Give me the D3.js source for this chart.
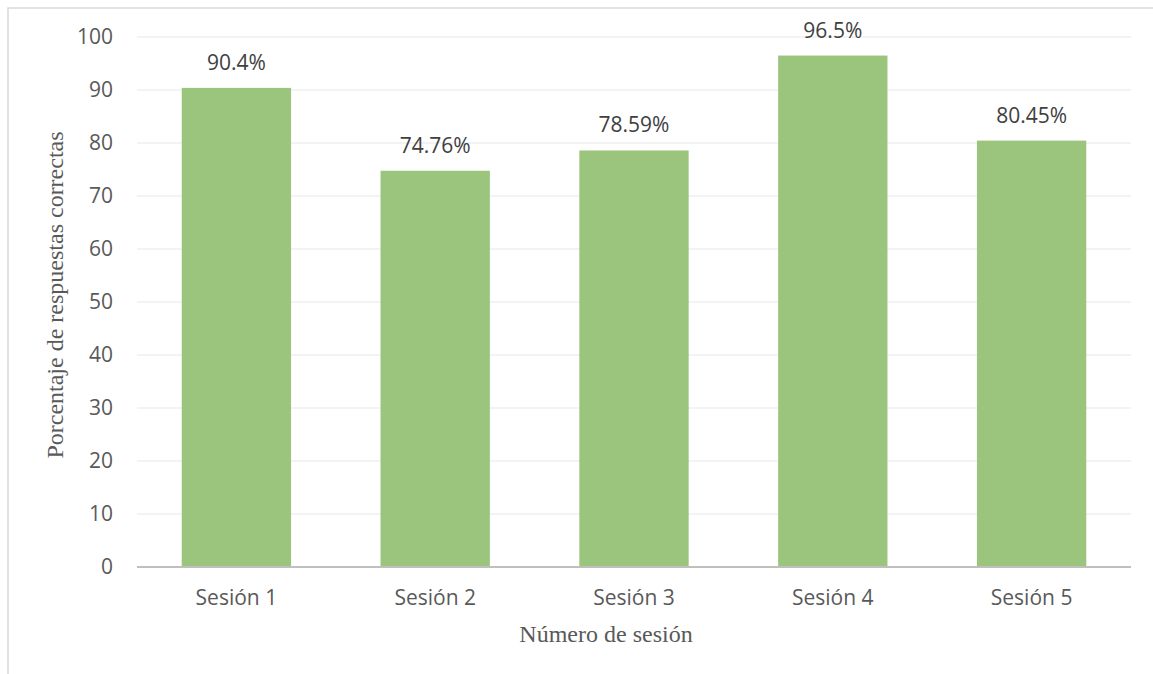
<!DOCTYPE html>
<html><head><meta charset="utf-8">
<script src="https://cdn.jsdelivr.net/npm/d3@7"></script>
<style>
html,body{margin:0;padding:0;background:#fff;}
svg{display:block;}
</style></head>
<body>
<script>
const categories = ["Sesión 1","Sesión 2","Sesión 3","Sesión 4","Sesión 5"];
const values = [90.4, 74.76, 78.59, 96.5, 80.45];
const valueLabels = ["90.4%","74.76%","78.59%","96.5%","80.45%"];
const yTicks = [0,10,20,30,40,50,60,70,80,90,100];
const yTitle = "Porcentaje de respuestas correctas";
const xTitle = "Número de sesión";

(function(){
const W = 1153, H = 674;
const mL = 137, mR = 1131, mT = 37, mB = 567;
const svg = d3.select("body").append("svg").attr("width", W).attr("height", H);

svg.append("rect").attr("x",8).attr("y",8).attr("width",W+10).attr("height",H+10)
  .attr("fill","#fff").attr("stroke","#d9d9d9").attr("stroke-width",1.5);

const x = d3.scaleBand().domain(categories).range([mL,mR]).paddingInner(0.45).paddingOuter(0.225);
const y = d3.scaleLinear().domain([0,100]).range([mB,mT]);

const tickFont = "'Open Sans', sans-serif";
const grid = svg.append("g");
grid.selectAll("line").data(yTicks.filter(d=>d>0)).join("line")
  .attr("x1",mL).attr("x2",mR).attr("y1",d=>y(d)).attr("y2",d=>y(d))
  .attr("stroke","#efefef").attr("stroke-width",1.5);

const yAxis = svg.append("g").attr("transform",`translate(${mL},0)`)
  .call(d3.axisLeft(y).tickValues(yTicks).tickSize(0).tickPadding(24));
yAxis.select(".domain").remove();
yAxis.selectAll("text").attr("font-family",tickFont).attr("font-size",21).attr("fill","#595959");

svg.append("g").selectAll("rect").data(values).join("rect")
  .attr("x",(d,i)=>x(categories[i])).attr("width",x.bandwidth())
  .attr("y",d=>y(d)).attr("height",d=>y(0)-y(d)).attr("fill","#9bc57d");

svg.append("line").attr("x1",mL).attr("x2",mR).attr("y1",y(0)).attr("y2",y(0))
  .attr("stroke","#bfbfbf").attr("stroke-width",2);

const xAxis = svg.append("g").attr("transform",`translate(0,${mB})`)
  .call(d3.axisBottom(x).tickSize(0).tickPadding(23));
xAxis.select(".domain").remove();
xAxis.selectAll("text").attr("font-family",tickFont).attr("font-size",21).attr("fill","#595959");

svg.append("g").selectAll("text").data(values).join("text")
  .attr("x",(d,i)=>x(categories[i])+x.bandwidth()/2).attr("y",d=>y(d)-18)
  .attr("text-anchor","middle").attr("font-family",tickFont).attr("font-size",21).attr("fill","#404040")
  .text((d,i)=>valueLabels[i]);

svg.append("text").attr("transform",`translate(63,295) rotate(-90)`)
  .attr("text-anchor","middle").attr("font-family","'Liberation Serif', 'Times New Roman', serif")
  .attr("font-size",24).attr("fill","#595959").text(yTitle);
svg.append("text").attr("x",606).attr("y",642)
  .attr("text-anchor","middle").attr("font-family","'Liberation Serif', 'Times New Roman', serif")
  .attr("font-size",24).attr("fill","#595959").text(xTitle);
})();
</script>
</body></html>
